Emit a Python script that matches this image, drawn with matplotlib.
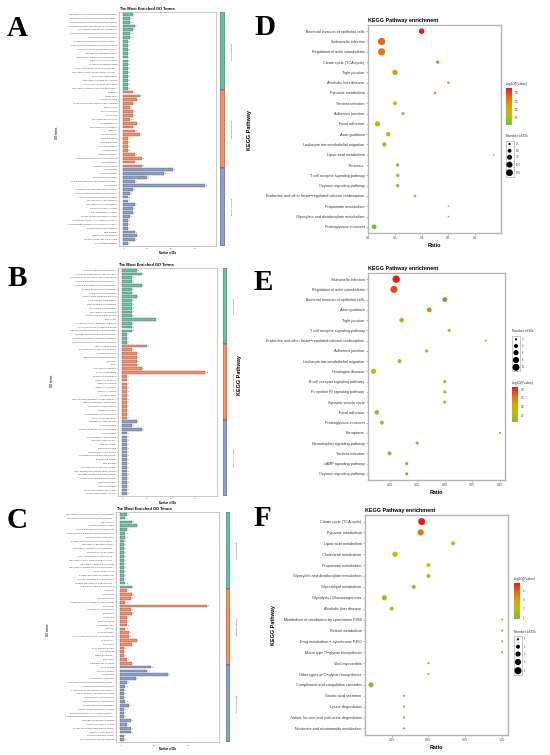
import numpy as np
import matplotlib
matplotlib.use("Agg")
import matplotlib.pyplot as plt
from matplotlib.colors import LinearSegmentedColormap, Normalize
from matplotlib.cm import ScalarMappable
from matplotlib.patches import Rectangle

plt.rcParams["font.family"] = ["Liberation Sans", "DejaVu Sans"]

W, H = 550, 755
GO_COLORS = ["#66c2a5", "#fc8d62", "#8da0cb"]
GO_CATS = ["biological process", "cellular component", "molecular function"]
CMAP = LinearSegmentedColormap.from_list(
    "pv", ["#6fbf44", "#b5c300", "#d6a600", "#ec6a10", "#f01818"]
)

# ---------------- GO panel A ----------------
A_bp_terms = [
    "regulation of cellular component organization",
    "epidermal growth factor receptor signaling...",
    "negative regulation of protein kinase activity",
    "substrate adhesion-dependent cell spreading",
    "cytoskeleton-dependent cytokinesis",
    "small GTPase mediated signal transduction",
    "phagocytosis, engulfment",
    "positive regulation of non-motile cilium...",
    "neuromuscular process controlling balance",
    "cellular response to fluid shear stress",
    "regulation of biological quality",
    "regulation of multicellular organismal...",
    "signal complex assembly",
    "protein deglutathionylation",
    "actin cytoskeleton contractile ring reg...",
    "regulation of entry of bacterium into host...",
    "septin ring organization",
    "regulation of protein processing",
    "cellular response to chemokine",
    "regulation of modification of postsynaptic...",
]
A_bp_counts = [4, 3, 3, 5, 4, 3, 3, 2, 2, 2, 2, 2, 2, 2, 2, 2, 2, 2, 2, 2]
A_cc_terms = [
    "synapse", "stress fiber", "cleavage furrow",
    "cAMP-dependent protein kinase complex", "spindle pole", "septin complex",
    "septin ring", "apical junction complex", "cell division site",
    "microtubule cytoskeleton", "midbody", "myelin sheath", "dendritic spine",
    "ruffle membrane", "non-motile cilium", "filopodium tip",
    "ciliary basal body", "cytoplasmic side of plasma membrane",
    "focal adhesion", "glutamatergic synapse",
]
A_cc_counts = [4, 7, 6, 4, 3, 4, 4, 3, 6, 4, 5, 7, 2, 2, 2, 2, 5, 8, 5, 8]
A_mf_terms = [
    "GTP binding", "GTPase activity", "protein kinase binding",
    "non-membrane spanning protein tyrosine...", "ATP binding",
    "protein serine/threonine kinase activity",
    "cAMP-dependent protein kinase activity",
    "AMP-activated protein kinase activity", "myosin heavy chain binding",
    "microtubule plus-end binding", "molecular adaptor activity",
    "signaling adaptor activity", "protein membrane adaptor activity",
    "phosphatidylinositol-3,4,5-trisphosphate...",
    "1-phosphatidylinositol-3-phosphate 5-kinase...",
    "phosphatidylinositol binding", "lipid binding", "magnesium ion binding",
    "protein domain specific binding", "SH3 domain binding",
]
A_mf_counts = [21, 17, 10, 5, 34, 4, 3, 2, 2, 5, 4, 4, 3, 2, 2, 2, 5, 6, 5, 2]

# ---------------- GO panel B ----------------
B_bp_terms = [
    "negative regulation of protein...", "nucleotide-sugar biosynthetic process",
    "neuromuscular process controlling balance",
    "negative regulation of protein kinase...",
    "negative regulation of gene expression",
    "positive regulation of cell motility", "neural crest cell migration",
    "carbohydrate metabolic process", "actin filament organization",
    "mitochondrion organization", "cytoskeleton organization",
    "microtubule organization", "protein homooligomerization", "proteolysis",
    "central nervous system development",
    "cellular response to oxidative stress",
    "high-density lipoprotein particle remodeling",
    "ubiquitin-dependent protein catabolic...",
    "protein localization to plasma membrane",
    "cellular response to tumor necrosis factor",
]
B_bp_counts = [3, 4, 2, 2, 4, 2, 2, 3, 2, 2, 2, 2, 2, 7, 2, 2, 2, 1, 1, 1]
B_cc_terms = [
    "mitochondrial matrix", "pyruvate dehydrogenase complex",
    "secretory granule", "high-density lipoprotein particle", "lysosome",
    "axon", "lysosomal membrane", "extracellular space",
    "basement membrane", "laminin-10 complex", "laminin-8 complex",
    "laminin-11 complex", "laminin-1 complex", "collagen trimer",
    "mitochondrial respiratory chain complex I", "mitochondrial inner membrane",
    "proteasome core complex", "Golgi membrane",
    "endoplasmic reticulum lumen", "extracellular exosome",
]
B_cc_counts = [5, 2, 3, 3, 3, 3, 4, 17, 1, 1, 1, 1, 1, 1, 1, 1, 1, 1, 1, 1]
B_mf_terms = [
    "signaling receptor activity", "enzyme binding",
    "calcium-dependent protein binding", "actin binding",
    "cytoskeletal protein binding", "oxidoreductase activity",
    "catalytic activity", "metal ion binding", "structural molecule activity",
    "G protein-coupled receptor activity", "transferase activity",
    "lipid binding", "pyruvate dehydrogenase activity",
    "DNA-binding transcription factor activity",
    "ubiquitin-protein transferase activity",
    "protein heterodimerization activity", "hydrolase activity",
    "cadherin binding", "NADH dehydrogenase activity",
    "phosphotransferase activity",
]
B_mf_counts = [3, 2, 4, 1, 1, 1, 1, 1, 1, 1, 1, 1, 1, 1, 1, 1, 1, 1, 1, 1]

# ---------------- GO panel C ----------------
C_bp_terms = [
    "regulation of cellular component organization",
    "epidermal growth factor receptor signaling...",
    "endocytosis", "protein phosphorylation",
    "cytoskeleton-dependent cytokinesis",
    "small GTPase mediated signal transduction",
    "phagocytosis, engulfment",
    "positive regulation of non-motile cilium...",
    "regulation of biological quality",
    "regulation of multicellular organismal...",
    "signal complex assembly", "actin cytoskeleton contractile reg...",
    "regulation of entry of bacterium into host...",
    "regulation of protein processing",
    "regulation of modification of postsynaptic...",
    "canonical glycolysis", "positive regulation of cytokinesis",
    "protein localization to microtubule",
    "positive regulation of actin filament...",
    "intracellular signal transduction",
]
C_bp_counts = [4, 3, 7, 10, 4, 3, 3, 2, 2, 2, 2, 2, 2, 2, 2, 2, 2, 2, 3, 7]
C_cc_terms = [
    "synapse", "stress fiber", "cleavage furrow",
    "cAMP-dependent protein kinase complex", "cytoplasm",
    "microtubule cytoskeleton", "endosome", "septin ring", "septin complex",
    "cell division site", "spindle", "dendritic spine",
    "cytoplasmic side of plasma membrane", "centrosome", "cell cortex",
    "actin filament bundle", "filopodium tip", "ciliary basal body",
    "podosome", "glutamatergic synapse",
]
C_cc_counts = [4, 7, 6, 3, 51, 6, 7, 4, 4, 4, 3, 5, 5, 10, 7, 2, 2, 2, 4, 7]
C_mf_terms = [
    "GTP binding", "GTPase activity", "ATP binding", "protein kinase binding",
    "non-membrane spanning protein tyrosine...",
    "protein tyrosine kinase activity",
    "cAMP-dependent protein kinase activity",
    "AMP-activated protein kinase activity", "myosin heavy chain binding",
    "microtubule plus-end binding", "protein phosphatase binding",
    "protein membrane adaptor activity",
    "phosphatidylinositol-3,4,5-trisphosphate...",
    "1-phosphatidylinositol-3-phosphate 5-kinase...",
    "ubiquitin protein ligase binding", "molecular adaptor activity",
    "protein serine/threonine kinase activity", "magnesium ion binding",
    "enzyme regulator activity", "GTP-dependent protein binding",
]
C_mf_counts = [18, 16, 28, 9, 4, 3, 2, 2, 2, 3, 5, 2, 2, 2, 6, 4, 6, 6, 2, 2]

# ---------------- KEGG panel D ----------------
D_terms = [
    "Bacterial invasion of epithelial cells", "Salmonella infection",
    "Regulation of actin cytoskeleton", "Citrate cycle (TCA cycle)",
    "Tight junction", "Alcoholic liver disease", "Pyruvate metabolism",
    "Yersinia infection", "Adherens junction", "Focal adhesion",
    "Axon guidance", "Leukocyte transendothelial migration",
    "Lipoic acid metabolism", "Pertussis", "T cell receptor signaling pathway",
    "Oxytocin signaling pathway",
    "Endocrine and other factor\u2212regulated calcium reabsorption",
    "Propanoate metabolism", "Glyoxylate and dicarboxylate metabolism",
    "Proteoglycans in cancer",
]
D_ratio = [0.40, 0.25, 0.25, 0.46, 0.30, 0.50, 0.45, 0.30, 0.33, 0.235,
           0.275, 0.26, 0.67, 0.31, 0.31, 0.31, 0.375, 0.50, 0.50, 0.222]
D_count = [9, 14, 14, 4, 8, 3, 3, 5, 4, 8, 6, 6, 2, 4, 4, 4, 3, 2, 2, 7]
D_logp = [3.28, 2.75, 2.65, 2.5, 2.25, 2.2, 2.1, 1.75, 1.7, 1.55,
          1.55, 1.5, 1.45, 1.4, 1.4, 1.4, 1.35, 1.3, 1.3, 1.08]

# ---------------- KEGG panel E ----------------
E_terms = [
    "Salmonella infection", "Regulation of actin cytoskeleton",
    "Bacterial invasion of epithelial cells", "Axon guidance",
    "Tight junction", "T cell receptor signaling pathway",
    "Endocrine and other factor\u2212regulated calcium reabsorption",
    "Adherens junction", "Leukocyte transendothelial migration",
    "Huntington disease", "B cell receptor signaling pathway",
    "Fc epsilon RI signaling pathway", "Synaptic vesicle cycle",
    "Focal adhesion", "Proteoglycans in cancer", "Ferroptosis",
    "Neurotrophin signaling pathway", "Yersinia infection",
    "cAMP signaling pathway", "Oxytocin signaling pathway",
]
E_ratio = [0.212, 0.208, 0.30, 0.272, 0.222, 0.308, 0.374, 0.267, 0.218,
           0.171, 0.30, 0.30, 0.30, 0.177, 0.186, 0.40, 0.25, 0.20, 0.231, 0.231]
E_count = [11, 10, 5, 5, 5, 3, 2, 3, 4, 6, 3, 3, 3, 5, 4, 2, 3, 4, 3, 3]
E_logp = [3.12, 2.85, 2.6, 2.45, 2.05, 1.95, 1.85, 1.75, 1.7, 1.55,
          1.5, 1.5, 1.5, 1.4, 1.35, 1.3, 1.3, 1.25, 1.15, 1.12]

# ---------------- KEGG panel F ----------------
F_terms = [
    "Citrate cycle (TCA cycle)", "Pyruvate metabolism",
    "Lipoic acid metabolism", "Cholesterol metabolism",
    "Propanoate metabolism", "Glyoxylate and dicarboxylate metabolism",
    "Glycerolipid metabolism", "Glycolysis / Gluconeogenesis",
    "Alcoholic liver disease",
    "Metabolism of xenobiotics by cytochrome P450", "Retinol metabolism",
    "Drug metabolism \u2212 cytochrome P450", "Mucin type O\u2212glycan biosynthesis",
    "Viral myocarditis", "Other types of O\u2212glycan biosynthesis",
    "Complement and coagulation cascades", "Gastric acid secretion",
    "Lysine degradation", "Valine, leucine and isoleucine degradation",
    "Nicotinate and nicotinamide metabolism",
]
F_ratio = [0.454, 0.447, 0.667, 0.273, 0.50, 0.50, 0.40, 0.20, 0.25, 1.0,
           1.0, 1.0, 1.0, 0.50, 0.50, 0.11, 0.333, 0.333, 0.333, 0.333]
F_count = [5, 4, 2, 3, 2, 2, 2, 3, 2, 1, 1, 1, 1, 1, 1, 3, 1, 1, 1, 1]
F_logp = [4.78, 3.7, 2.1, 2.1, 1.9, 1.9, 1.6, 1.7, 1.5, 1.5,
          1.5, 1.5, 1.5, 1.3, 1.3, 1.2, 1.0, 1.0, 0.95, 0.92]


def box(x0, y0, x1, y1):
    return [x0 / W, 1 - y1 / H, (x1 - x0) / W, (y1 - y0) / H]


def dot_s(c, c0, c1, d0, d1):
    # area-linear size scale, diameters given in pixels (dpi 100)
    area = d0 ** 2 + (d1 ** 2 - d0 ** 2) * (np.asarray(c, float) - c0) / (c1 - c0)
    return np.clip(area, 0.5, None) * 0.72 ** 2


def go_panel(fig, ax_px, strip_px, term_groups, count_groups, xticks):
    terms = sum(term_groups, [])
    vals = np.concatenate([np.asarray(c) for c in count_groups])
    cols = np.repeat(GO_COLORS, [len(c) for c in count_groups])
    n = len(vals)
    y = np.arange(n)
    vmax = vals.max()

    ax = fig.add_axes(box(*ax_px))
    ax.barh(y, vals, height=0.72, color=cols, edgecolor="#4d4d4d", linewidth=0.25)
    for yi, v in zip(y, vals):
        ax.text(v + vmax * 0.012, yi, str(v), fontsize=1.3, va="center", color="#333333")
    ax.set_ylim(n - 0.4, -0.6)
    ax.set_xlim(-0.05 * vmax, 1.14 * vmax)
    ax.set_yticks(y, terms, fontsize=1.75, color="#4d4d4d")
    ax.set_xticks(xticks)
    ax.tick_params(axis="x", labelsize=1.6, length=1, width=0.3, pad=0.8,
                   color="#777777", labelcolor="#4d4d4d")
    ax.tick_params(axis="y", length=0.8, width=0.25, pad=0.6, color="#777777")
    for sp in ax.spines.values():
        sp.set_color("#b3b3b3")
        sp.set_linewidth(0.5)
    ax.set_title("The Most Enriched GO Terms", loc="left", fontsize=2.9,
                 fontweight="bold", pad=1.2)
    ax.set_xlabel("Number of IDs", fontsize=1.8, fontweight="bold", labelpad=1)

    sax = fig.add_axes(box(*strip_px))
    sax.set_ylim(n - 0.4, -0.6)
    sax.set_xlim(0, 1)
    sax.axis("off")
    start = -0.6
    pos = 0
    for i, (c, lab, col) in enumerate(zip(count_groups, GO_CATS, GO_COLORS)):
        k = len(c)
        end = n - 0.4 if i == len(count_groups) - 1 else pos + k - 0.5
        sax.add_patch(Rectangle((0, start), 1, end - start, facecolor=col,
                                edgecolor="#333333", linewidth=0.3))
        sax.text(2.3, (start + end) / 2, lab, rotation=270, fontsize=1.5,
                 ha="center", va="center", color="#333333", clip_on=False)
        start = end
        pos += k


def kegg_panel(fig, ax_px, terms, ratios, counts, logp, xticks, xticklabels,
               xlim, size_par):
    ax = fig.add_axes(box(*ax_px))
    n = len(terms)
    y = np.arange(n)
    norm = Normalize(min(logp), max(logp))
    ax.scatter(ratios, y, s=dot_s(counts, *size_par), c=logp, cmap=CMAP,
               norm=norm, linewidths=0, zorder=3)
    ax.set_ylim(n - 0.4, -0.6)
    ax.set_xlim(*xlim)
    ax.set_yticks(y, terms, fontsize=2.7, color="#333333")
    ax.set_xticks(xticks, xticklabels)
    ax.tick_params(axis="x", labelsize=2.3, length=1.5, width=0.4, pad=1,
                   color="#888888", labelcolor="#4d4d4d")
    ax.tick_params(axis="y", length=1.5, width=0.4, pad=1, color="#888888")
    for sp in ax.spines.values():
        sp.set_color("#b5b5b5")
        sp.set_linewidth(1.0)
    ax.set_title("KEGG Pathway enrichment", loc="left", fontsize=3.9,
                 fontweight="bold", pad=2)
    ax.set_xlabel("Ratio", fontsize=3.9, fontweight="bold", labelpad=1.5)
    return norm


def size_legend(ov, x, y_title, ys, values, size_par):
    ov.text(x, y_title, "Number of IDs", fontsize=2.4, va="center", color="#333333")
    ov.add_patch(Rectangle((x, ys[0] - 3.5), 8, ys[-1] - ys[0] + 7.5,
                           facecolor="white", edgecolor="#9a9a9a", linewidth=0.4))
    ov.scatter([x + 4] * len(values), ys, s=dot_s(values, *size_par), c="black",
               linewidths=0, zorder=3)
    for v, yy in zip(values, ys):
        ov.text(x + 10, yy, v, fontsize=1.8, va="center", color="#333333")


def color_legend(fig, ov, norm, bar_px, ticks, ticklabels):
    x0, y0 = bar_px[0], bar_px[1]
    ov.text(x0, y0 - 4, "-log10(Pvalue)", fontsize=2.4, va="center", color="#333333")
    cax = fig.add_axes(box(*bar_px))
    cb = fig.colorbar(ScalarMappable(norm=norm, cmap=CMAP), cax=cax, ticks=ticks)
    cb.ax.set_yticklabels(ticklabels)
    cb.ax.tick_params(labelsize=1.8, length=1.2, width=0.3, color="white",
                      pad=0.8, labelcolor="#333333")
    cb.outline.set_visible(False)


fig = plt.figure(figsize=(W / 100, H / 100), dpi=100)

go_panel(fig, (119, 12, 216, 246), (220, 12, 224.5, 246),
         [A_bp_terms, A_cc_terms, A_mf_terms],
         [A_bp_counts, A_cc_counts, A_mf_counts], [0, 10, 20, 30])
go_panel(fig, (118, 268, 217, 496), (223, 268, 227, 496),
         [B_bp_terms, B_cc_terms, B_mf_terms],
         [B_bp_counts, B_cc_counts, B_mf_counts], [0, 5, 10, 15])
go_panel(fig, (116, 512, 219, 742), (226, 512, 230, 742),
         [C_bp_terms, C_cc_terms, C_mf_terms],
         [C_bp_counts, C_cc_counts, C_mf_counts], [0, 20, 40])

D_size = (2.5, 12.5, 2.2, 6.8)
E_size = (2, 10, 2.2, 7.0)
F_size = (1, 5, 2.2, 7.0)

normD = kegg_panel(fig, (368, 25, 501, 233), D_terms, D_ratio, D_count, D_logp,
                   [0.2, 0.3, 0.4, 0.5, 0.6], ["0.2", "0.3", "0.4", "0.5", "0.6"],
                   (0.199, 0.697), D_size)
normE = kegg_panel(fig, (368, 273, 505, 480), E_terms, E_ratio, E_count, E_logp,
                   [0.20, 0.25, 0.30, 0.35, 0.40],
                   ["0.20", "0.25", "0.30", "0.35", "0.40"],
                   (0.161, 0.409), E_size)
normF = kegg_panel(fig, (365, 515, 508, 735), F_terms, F_ratio, F_count, F_logp,
                   [0.25, 0.5, 0.75, 1.0], ["0.25", "0.50", "0.75", "1.00"],
                   (0.069, 1.04), F_size)

ov = fig.add_axes([0, 0, 1, 1])
ov.set_xlim(0, W)
ov.set_ylim(H, 0)
ov.axis("off")

color_legend(fig, ov, normD, (506, 88, 512, 125), [1.5, 2.0, 2.5, 3.0],
             ["1.5", "2.0", "2.5", "3.0"])
size_legend(ov, 505.5, 136, [144, 150.7, 157.3, 164.7, 172.7],
            ["2.5", "5.0", "7.5", "10.0", "12.5"], D_size)

size_legend(ov, 512, 331, [339.3, 346, 352.7, 360, 367.3],
            ["2", "4", "6", "8", "10"], E_size)
color_legend(fig, ov, normE, (512, 387, 518, 422), [1.5, 2.0, 2.5, 3.0],
             ["1.5", "2.0", "2.5", "3.0"])

color_legend(fig, ov, normF, (514, 583, 520, 619), [1, 2, 3, 4],
             ["1", "2", "3", "4"])
size_legend(ov, 514, 632, [639.3, 646.7, 654, 662, 670.7],
            ["1", "2", "3", "4", "5"], F_size)

# axis titles placed in figure pixels
for x, y in [(57, 133), (52, 381), (48, 630)]:
    ov.text(x, y, "GO terms", rotation=90, fontsize=2.0, fontweight="bold",
            ha="center", va="center", color="#333333")
for x, y in [(249, 130), (240, 375), (273, 625)]:
    ov.text(x, y, "KEGG Pathway", rotation=90, fontsize=4.0, fontweight="bold",
            ha="center", va="center")

for lab, x, y in [("A", 17, 28), ("B", 17, 279), ("C", 17.5, 520),
                  ("D", 265, 27.5), ("E", 263, 282), ("F", 262, 519)]:
    ov.text(x, y, lab, fontsize=21, fontweight="bold", ha="center", va="center",
            family=["Liberation Serif", "DejaVu Serif"])

fig.savefig("out.png", dpi=100)
